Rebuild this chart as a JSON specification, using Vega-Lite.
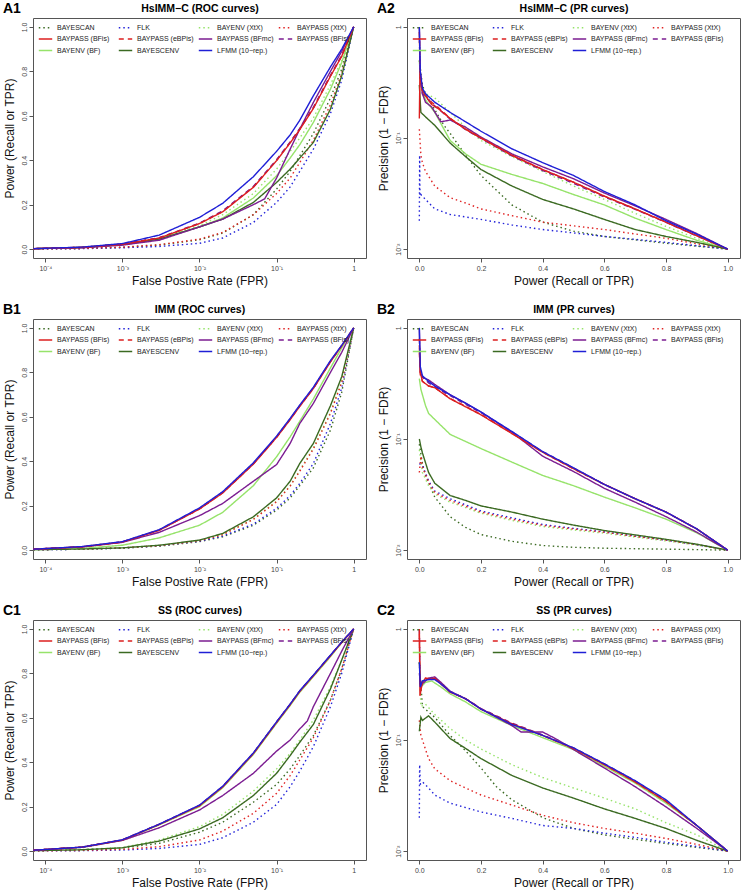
{
"$schema": "https://vega.github.io/schema/vega-lite/v6.json",
"padding": {"left": 2, "top": 1, "right": 2, "bottom": 2},
"background": "white",
"config": {
  "font": "Liberation Sans",
  "view": {"stroke": "#555", "strokeWidth": 1},
  "title": {"anchor": "start", "frame": "bounds", "offset": -13, "fontSize": 14, "fontWeight": "bold", "color": "#000"},
  "axis": {"grid": false, "domain": false, "tickSize": 4, "tickColor": "#555", "labelFontSize": 7, "labelColor": "#444", "labelPadding": 2, "titleFontSize": 12, "titleFontWeight": "normal", "titleColor": "#111", "titlePadding": 4, "labelFlush": false, "labelOverlap": false},
  "axisLeft": {"labelAngle": -90, "labelAlign": "center", "labelBaseline": "bottom"},
  "legend": {"gridAlign": "all", "columnPadding": 1, "rowPadding": 0.5, "symbolType": "stroke", "symbolSize": 180, "symbolStrokeWidth": 1.4, "labelFontSize": 7, "labelColor": "#222", "labelOffset": 4, "padding": 0}
},
"spacing": {"row": 15, "column": 9},
"columns": 2,
"resolve": {"scale": {"color": "independent", "strokeDash": "independent"}},
"datasets": {
"A1": [
{"m":"SCAN","x":0.00007,"y":0.001},{"m":"SCAN","x":0.0003,"y":0.003},{"m":"SCAN","x":0.001,"y":0.008},{"m":"SCAN","x":0.003,"y":0.018},{"m":"SCAN","x":0.01,"y":0.042},{"m":"SCAN","x":0.02,"y":0.072},{"m":"SCAN","x":0.05,"y":0.155},{"m":"SCAN","x":0.1,"y":0.27},{"m":"SCAN","x":0.15,"y":0.35},{"m":"SCAN","x":0.2,"y":0.42},{"m":"SCAN","x":0.3,"y":0.52},{"m":"SCAN","x":0.5,"y":0.68},{"m":"SCAN","x":0.7,"y":0.81},{"m":"SCAN","x":1,"y":1},
{"m":"FLK","x":0.00007,"y":0.001},{"m":"FLK","x":0.0003,"y":0.002},{"m":"FLK","x":0.001,"y":0.006},{"m":"FLK","x":0.003,"y":0.012},{"m":"FLK","x":0.01,"y":0.026},{"m":"FLK","x":0.02,"y":0.05},{"m":"FLK","x":0.05,"y":0.12},{"m":"FLK","x":0.1,"y":0.21},{"m":"FLK","x":0.15,"y":0.28},{"m":"FLK","x":0.2,"y":0.35},{"m":"FLK","x":0.3,"y":0.45},{"m":"FLK","x":0.5,"y":0.61},{"m":"FLK","x":0.7,"y":0.76},{"m":"FLK","x":1,"y":1},
{"m":"ENVX","x":0.00007,"y":0.002},{"m":"ENVX","x":0.0003,"y":0.008},{"m":"ENVX","x":0.001,"y":0.022},{"m":"ENVX","x":0.003,"y":0.048},{"m":"ENVX","x":0.01,"y":0.105},{"m":"ENVX","x":0.02,"y":0.155},{"m":"ENVX","x":0.05,"y":0.25},{"m":"ENVX","x":0.1,"y":0.36},{"m":"ENVX","x":0.15,"y":0.44},{"m":"ENVX","x":0.2,"y":0.5},{"m":"ENVX","x":0.3,"y":0.59},{"m":"ENVX","x":0.5,"y":0.74},{"m":"ENVX","x":0.7,"y":0.85},{"m":"ENVX","x":1,"y":1},
{"m":"BPX","x":0.00007,"y":0.001},{"m":"BPX","x":0.0003,"y":0.003},{"m":"BPX","x":0.001,"y":0.009},{"m":"BPX","x":0.003,"y":0.02},{"m":"BPX","x":0.01,"y":0.045},{"m":"BPX","x":0.02,"y":0.075},{"m":"BPX","x":0.05,"y":0.155},{"m":"BPX","x":0.1,"y":0.25},{"m":"BPX","x":0.15,"y":0.32},{"m":"BPX","x":0.2,"y":0.39},{"m":"BPX","x":0.3,"y":0.49},{"m":"BPX","x":0.5,"y":0.65},{"m":"BPX","x":0.7,"y":0.79},{"m":"BPX","x":1,"y":1},
{"m":"ENVBF","x":0.00007,"y":0.002},{"m":"ENVBF","x":0.0003,"y":0.008},{"m":"ENVBF","x":0.001,"y":0.021},{"m":"ENVBF","x":0.003,"y":0.045},{"m":"ENVBF","x":0.01,"y":0.1},{"m":"ENVBF","x":0.02,"y":0.14},{"m":"ENVBF","x":0.05,"y":0.23},{"m":"ENVBF","x":0.1,"y":0.33},{"m":"ENVBF","x":0.15,"y":0.41},{"m":"ENVBF","x":0.2,"y":0.47},{"m":"ENVBF","x":0.3,"y":0.57},{"m":"ENVBF","x":0.5,"y":0.72},{"m":"ENVBF","x":0.7,"y":0.84},{"m":"ENVBF","x":1,"y":1},
{"m":"SCENV","x":0.00007,"y":0.002},{"m":"SCENV","x":0.0003,"y":0.007},{"m":"SCENV","x":0.001,"y":0.02},{"m":"SCENV","x":0.003,"y":0.045},{"m":"SCENV","x":0.01,"y":0.1},{"m":"SCENV","x":0.02,"y":0.135},{"m":"SCENV","x":0.05,"y":0.21},{"m":"SCENV","x":0.1,"y":0.3},{"m":"SCENV","x":0.15,"y":0.36},{"m":"SCENV","x":0.2,"y":0.41},{"m":"SCENV","x":0.3,"y":0.48},{"m":"SCENV","x":0.5,"y":0.63},{"m":"SCENV","x":0.7,"y":0.78},{"m":"SCENV","x":1,"y":1},
{"m":"BFMC","x":0.00007,"y":0.002},{"m":"BFMC","x":0.0003,"y":0.006},{"m":"BFMC","x":0.001,"y":0.018},{"m":"BFMC","x":0.003,"y":0.04},{"m":"BFMC","x":0.01,"y":0.1},{"m":"BFMC","x":0.02,"y":0.135},{"m":"BFMC","x":0.05,"y":0.2},{"m":"BFMC","x":0.07,"y":0.226},{"m":"BFMC","x":0.1,"y":0.32},{"m":"BFMC","x":0.15,"y":0.45},{"m":"BFMC","x":0.2,"y":0.54},{"m":"BFMC","x":0.3,"y":0.66},{"m":"BFMC","x":0.5,"y":0.8},{"m":"BFMC","x":0.7,"y":0.89},{"m":"BFMC","x":1,"y":1},
{"m":"EBP","x":0.00007,"y":0.002},{"m":"EBP","x":0.0003,"y":0.008},{"m":"EBP","x":0.001,"y":0.022},{"m":"EBP","x":0.003,"y":0.05},{"m":"EBP","x":0.01,"y":0.115},{"m":"EBP","x":0.02,"y":0.17},{"m":"EBP","x":0.05,"y":0.28},{"m":"EBP","x":0.1,"y":0.4},{"m":"EBP","x":0.15,"y":0.48},{"m":"EBP","x":0.2,"y":0.54},{"m":"EBP","x":0.3,"y":0.635},{"m":"EBP","x":0.5,"y":0.78},{"m":"EBP","x":0.7,"y":0.87},{"m":"EBP","x":1,"y":1},
{"m":"BFIS2","x":0.00007,"y":0.002},{"m":"BFIS2","x":0.0003,"y":0.008},{"m":"BFIS2","x":0.001,"y":0.023},{"m":"BFIS2","x":0.003,"y":0.051},{"m":"BFIS2","x":0.01,"y":0.117},{"m":"BFIS2","x":0.02,"y":0.172},{"m":"BFIS2","x":0.05,"y":0.282},{"m":"BFIS2","x":0.1,"y":0.402},{"m":"BFIS2","x":0.15,"y":0.482},{"m":"BFIS2","x":0.2,"y":0.543},{"m":"BFIS2","x":0.3,"y":0.638},{"m":"BFIS2","x":0.5,"y":0.782},{"m":"BFIS2","x":0.7,"y":0.872},{"m":"BFIS2","x":1,"y":1},
{"m":"BFIS","x":0.00007,"y":0.002},{"m":"BFIS","x":0.0003,"y":0.008},{"m":"BFIS","x":0.001,"y":0.022},{"m":"BFIS","x":0.003,"y":0.05},{"m":"BFIS","x":0.01,"y":0.115},{"m":"BFIS","x":0.02,"y":0.168},{"m":"BFIS","x":0.05,"y":0.278},{"m":"BFIS","x":0.1,"y":0.398},{"m":"BFIS","x":0.15,"y":0.478},{"m":"BFIS","x":0.2,"y":0.538},{"m":"BFIS","x":0.3,"y":0.633},{"m":"BFIS","x":0.5,"y":0.778},{"m":"BFIS","x":0.7,"y":0.868},{"m":"BFIS","x":1,"y":1},
{"m":"LFMM","x":0.00007,"y":0.002},{"m":"LFMM","x":0.0003,"y":0.009},{"m":"LFMM","x":0.001,"y":0.025},{"m":"LFMM","x":0.003,"y":0.063},{"m":"LFMM","x":0.01,"y":0.143},{"m":"LFMM","x":0.02,"y":0.206},{"m":"LFMM","x":0.05,"y":0.326},{"m":"LFMM","x":0.1,"y":0.44},{"m":"LFMM","x":0.15,"y":0.514},{"m":"LFMM","x":0.2,"y":0.58},{"m":"LFMM","x":0.3,"y":0.69},{"m":"LFMM","x":0.5,"y":0.82},{"m":"LFMM","x":0.7,"y":0.9},{"m":"LFMM","x":1,"y":1}
],
"B1": [
{"m":"SCAN","x":0.00007,"y":0.001},{"m":"SCAN","x":0.0003,"y":0.004},{"m":"SCAN","x":0.001,"y":0.009},{"m":"SCAN","x":0.003,"y":0.018},{"m":"SCAN","x":0.01,"y":0.038},{"m":"SCAN","x":0.02,"y":0.06},{"m":"SCAN","x":0.05,"y":0.112},{"m":"SCAN","x":0.1,"y":0.18},{"m":"SCAN","x":0.15,"y":0.235},{"m":"SCAN","x":0.2,"y":0.29},{"m":"SCAN","x":0.3,"y":0.37},{"m":"SCAN","x":0.5,"y":0.54},{"m":"SCAN","x":0.7,"y":0.71},{"m":"SCAN","x":1,"y":1},
{"m":"FLK","x":0.00007,"y":0.001},{"m":"FLK","x":0.0003,"y":0.004},{"m":"FLK","x":0.001,"y":0.009},{"m":"FLK","x":0.003,"y":0.019},{"m":"FLK","x":0.01,"y":0.04},{"m":"FLK","x":0.02,"y":0.063},{"m":"FLK","x":0.05,"y":0.117},{"m":"FLK","x":0.1,"y":0.188},{"m":"FLK","x":0.15,"y":0.245},{"m":"FLK","x":0.2,"y":0.3},{"m":"FLK","x":0.3,"y":0.39},{"m":"FLK","x":0.5,"y":0.57},{"m":"FLK","x":0.7,"y":0.73},{"m":"FLK","x":1,"y":1},
{"m":"ENVX","x":0.00007,"y":0.002},{"m":"ENVX","x":0.0003,"y":0.005},{"m":"ENVX","x":0.001,"y":0.01},{"m":"ENVX","x":0.003,"y":0.021},{"m":"ENVX","x":0.01,"y":0.043},{"m":"ENVX","x":0.02,"y":0.07},{"m":"ENVX","x":0.05,"y":0.14},{"m":"ENVX","x":0.1,"y":0.22},{"m":"ENVX","x":0.15,"y":0.29},{"m":"ENVX","x":0.2,"y":0.36},{"m":"ENVX","x":0.3,"y":0.46},{"m":"ENVX","x":0.5,"y":0.62},{"m":"ENVX","x":0.7,"y":0.76},{"m":"ENVX","x":1,"y":1},
{"m":"BPX","x":0.00007,"y":0.002},{"m":"BPX","x":0.0003,"y":0.005},{"m":"BPX","x":0.001,"y":0.01},{"m":"BPX","x":0.003,"y":0.02},{"m":"BPX","x":0.01,"y":0.042},{"m":"BPX","x":0.02,"y":0.069},{"m":"BPX","x":0.05,"y":0.138},{"m":"BPX","x":0.1,"y":0.218},{"m":"BPX","x":0.15,"y":0.288},{"m":"BPX","x":0.2,"y":0.355},{"m":"BPX","x":0.3,"y":0.455},{"m":"BPX","x":0.5,"y":0.615},{"m":"BPX","x":0.7,"y":0.755},{"m":"BPX","x":1,"y":1},
{"m":"ENVBF","x":0.00007,"y":0.002},{"m":"ENVBF","x":0.0003,"y":0.008},{"m":"ENVBF","x":0.001,"y":0.022},{"m":"ENVBF","x":0.003,"y":0.055},{"m":"ENVBF","x":0.01,"y":0.112},{"m":"ENVBF","x":0.02,"y":0.17},{"m":"ENVBF","x":0.05,"y":0.29},{"m":"ENVBF","x":0.1,"y":0.42},{"m":"ENVBF","x":0.15,"y":0.51},{"m":"ENVBF","x":0.2,"y":0.58},{"m":"ENVBF","x":0.3,"y":0.68},{"m":"ENVBF","x":0.5,"y":0.82},{"m":"ENVBF","x":0.7,"y":0.91},{"m":"ENVBF","x":1,"y":1},
{"m":"SCENV","x":0.00007,"y":0.002},{"m":"SCENV","x":0.0003,"y":0.005},{"m":"SCENV","x":0.001,"y":0.01},{"m":"SCENV","x":0.003,"y":0.022},{"m":"SCENV","x":0.01,"y":0.045},{"m":"SCENV","x":0.02,"y":0.075},{"m":"SCENV","x":0.05,"y":0.15},{"m":"SCENV","x":0.1,"y":0.235},{"m":"SCENV","x":0.15,"y":0.31},{"m":"SCENV","x":0.2,"y":0.39},{"m":"SCENV","x":0.3,"y":0.48},{"m":"SCENV","x":0.5,"y":0.65},{"m":"SCENV","x":0.7,"y":0.78},{"m":"SCENV","x":1,"y":1},
{"m":"BFMC","x":0.00007,"y":0.004},{"m":"BFMC","x":0.0003,"y":0.014},{"m":"BFMC","x":0.001,"y":0.035},{"m":"BFMC","x":0.003,"y":0.08},{"m":"BFMC","x":0.01,"y":0.155},{"m":"BFMC","x":0.02,"y":0.21},{"m":"BFMC","x":0.05,"y":0.31},{"m":"BFMC","x":0.1,"y":0.385},{"m":"BFMC","x":0.15,"y":0.48},{"m":"BFMC","x":0.2,"y":0.57},{"m":"BFMC","x":0.3,"y":0.66},{"m":"BFMC","x":0.5,"y":0.8},{"m":"BFMC","x":0.7,"y":0.89},{"m":"BFMC","x":1,"y":1},
{"m":"EBP","x":0.00007,"y":0.004},{"m":"EBP","x":0.0003,"y":0.015},{"m":"EBP","x":0.001,"y":0.037},{"m":"EBP","x":0.003,"y":0.09},{"m":"EBP","x":0.01,"y":0.185},{"m":"EBP","x":0.02,"y":0.258},{"m":"EBP","x":0.05,"y":0.388},{"m":"EBP","x":0.1,"y":0.508},{"m":"EBP","x":0.15,"y":0.588},{"m":"EBP","x":0.2,"y":0.648},{"m":"EBP","x":0.3,"y":0.728},{"m":"EBP","x":0.5,"y":0.848},{"m":"EBP","x":0.7,"y":0.92},{"m":"EBP","x":1,"y":1},
{"m":"BFIS2","x":0.00007,"y":0.004},{"m":"BFIS2","x":0.0003,"y":0.015},{"m":"BFIS2","x":0.001,"y":0.037},{"m":"BFIS2","x":0.003,"y":0.09},{"m":"BFIS2","x":0.01,"y":0.187},{"m":"BFIS2","x":0.02,"y":0.26},{"m":"BFIS2","x":0.05,"y":0.39},{"m":"BFIS2","x":0.1,"y":0.51},{"m":"BFIS2","x":0.15,"y":0.59},{"m":"BFIS2","x":0.2,"y":0.65},{"m":"BFIS2","x":0.3,"y":0.73},{"m":"BFIS2","x":0.5,"y":0.85},{"m":"BFIS2","x":0.7,"y":0.92},{"m":"BFIS2","x":1,"y":1},
{"m":"BFIS","x":0.00007,"y":0.004},{"m":"BFIS","x":0.0003,"y":0.015},{"m":"BFIS","x":0.001,"y":0.036},{"m":"BFIS","x":0.003,"y":0.089},{"m":"BFIS","x":0.01,"y":0.185},{"m":"BFIS","x":0.02,"y":0.257},{"m":"BFIS","x":0.05,"y":0.387},{"m":"BFIS","x":0.1,"y":0.507},{"m":"BFIS","x":0.15,"y":0.587},{"m":"BFIS","x":0.2,"y":0.647},{"m":"BFIS","x":0.3,"y":0.727},{"m":"BFIS","x":0.5,"y":0.847},{"m":"BFIS","x":0.7,"y":0.919},{"m":"BFIS","x":1,"y":1},
{"m":"LFMM","x":0.00007,"y":0.004},{"m":"LFMM","x":0.0003,"y":0.016},{"m":"LFMM","x":0.001,"y":0.038},{"m":"LFMM","x":0.003,"y":0.092},{"m":"LFMM","x":0.01,"y":0.19},{"m":"LFMM","x":0.02,"y":0.263},{"m":"LFMM","x":0.05,"y":0.393},{"m":"LFMM","x":0.1,"y":0.513},{"m":"LFMM","x":0.15,"y":0.593},{"m":"LFMM","x":0.2,"y":0.653},{"m":"LFMM","x":0.3,"y":0.733},{"m":"LFMM","x":0.5,"y":0.853},{"m":"LFMM","x":0.7,"y":0.922},{"m":"LFMM","x":1,"y":1}
],
"C1": [
{"m":"SCAN","x":0.00007,"y":0.002},{"m":"SCAN","x":0.0003,"y":0.006},{"m":"SCAN","x":0.001,"y":0.014},{"m":"SCAN","x":0.003,"y":0.035},{"m":"SCAN","x":0.01,"y":0.085},{"m":"SCAN","x":0.02,"y":0.13},{"m":"SCAN","x":0.05,"y":0.22},{"m":"SCAN","x":0.1,"y":0.3},{"m":"SCAN","x":0.15,"y":0.37},{"m":"SCAN","x":0.2,"y":0.43},{"m":"SCAN","x":0.3,"y":0.52},{"m":"SCAN","x":0.5,"y":0.68},{"m":"SCAN","x":0.7,"y":0.82},{"m":"SCAN","x":1,"y":1},
{"m":"FLK","x":0.00007,"y":0.001},{"m":"FLK","x":0.0003,"y":0.002},{"m":"FLK","x":0.001,"y":0.005},{"m":"FLK","x":0.003,"y":0.012},{"m":"FLK","x":0.01,"y":0.03},{"m":"FLK","x":0.02,"y":0.06},{"m":"FLK","x":0.05,"y":0.13},{"m":"FLK","x":0.1,"y":0.21},{"m":"FLK","x":0.15,"y":0.29},{"m":"FLK","x":0.2,"y":0.36},{"m":"FLK","x":0.3,"y":0.47},{"m":"FLK","x":0.5,"y":0.65},{"m":"FLK","x":0.7,"y":0.8},{"m":"FLK","x":1,"y":1},
{"m":"ENVX","x":0.00007,"y":0.002},{"m":"ENVX","x":0.0003,"y":0.007},{"m":"ENVX","x":0.001,"y":0.016},{"m":"ENVX","x":0.003,"y":0.05},{"m":"ENVX","x":0.01,"y":0.11},{"m":"ENVX","x":0.02,"y":0.165},{"m":"ENVX","x":0.05,"y":0.27},{"m":"ENVX","x":0.1,"y":0.37},{"m":"ENVX","x":0.15,"y":0.44},{"m":"ENVX","x":0.2,"y":0.5},{"m":"ENVX","x":0.3,"y":0.59},{"m":"ENVX","x":0.5,"y":0.74},{"m":"ENVX","x":0.7,"y":0.86},{"m":"ENVX","x":1,"y":1},
{"m":"BPX","x":0.00007,"y":0.001},{"m":"BPX","x":0.0003,"y":0.003},{"m":"BPX","x":0.001,"y":0.008},{"m":"BPX","x":0.003,"y":0.02},{"m":"BPX","x":0.01,"y":0.05},{"m":"BPX","x":0.02,"y":0.09},{"m":"BPX","x":0.05,"y":0.17},{"m":"BPX","x":0.1,"y":0.26},{"m":"BPX","x":0.15,"y":0.34},{"m":"BPX","x":0.2,"y":0.41},{"m":"BPX","x":0.3,"y":0.51},{"m":"BPX","x":0.5,"y":0.68},{"m":"BPX","x":0.7,"y":0.82},{"m":"BPX","x":1,"y":1},
{"m":"ENVBF","x":0.00007,"y":0.004},{"m":"ENVBF","x":0.0003,"y":0.017},{"m":"ENVBF","x":0.001,"y":0.049},{"m":"ENVBF","x":0.003,"y":0.118},{"m":"ENVBF","x":0.01,"y":0.2},{"m":"ENVBF","x":0.02,"y":0.285},{"m":"ENVBF","x":0.05,"y":0.435},{"m":"ENVBF","x":0.1,"y":0.575},{"m":"ENVBF","x":0.15,"y":0.655},{"m":"ENVBF","x":0.2,"y":0.715},{"m":"ENVBF","x":0.3,"y":0.785},{"m":"ENVBF","x":0.5,"y":0.875},{"m":"ENVBF","x":0.7,"y":0.938},{"m":"ENVBF","x":1,"y":1},
{"m":"SCENV","x":0.00007,"y":0.002},{"m":"SCENV","x":0.0003,"y":0.006},{"m":"SCENV","x":0.001,"y":0.015},{"m":"SCENV","x":0.003,"y":0.045},{"m":"SCENV","x":0.01,"y":0.1},{"m":"SCENV","x":0.02,"y":0.15},{"m":"SCENV","x":0.05,"y":0.25},{"m":"SCENV","x":0.1,"y":0.35},{"m":"SCENV","x":0.15,"y":0.43},{"m":"SCENV","x":0.2,"y":0.49},{"m":"SCENV","x":0.3,"y":0.57},{"m":"SCENV","x":0.5,"y":0.73},{"m":"SCENV","x":0.7,"y":0.86},{"m":"SCENV","x":1,"y":1},
{"m":"BFMC","x":0.00007,"y":0.004},{"m":"BFMC","x":0.0003,"y":0.017},{"m":"BFMC","x":0.001,"y":0.048},{"m":"BFMC","x":0.003,"y":0.105},{"m":"BFMC","x":0.01,"y":0.185},{"m":"BFMC","x":0.02,"y":0.25},{"m":"BFMC","x":0.05,"y":0.35},{"m":"BFMC","x":0.1,"y":0.45},{"m":"BFMC","x":0.15,"y":0.5},{"m":"BFMC","x":0.2,"y":0.55},{"m":"BFMC","x":0.25,"y":0.585},{"m":"BFMC","x":0.3,"y":0.65},{"m":"BFMC","x":0.5,"y":0.8},{"m":"BFMC","x":0.7,"y":0.9},{"m":"BFMC","x":1,"y":1},
{"m":"EBP","x":0.00007,"y":0.004},{"m":"EBP","x":0.0003,"y":0.018},{"m":"EBP","x":0.001,"y":0.05},{"m":"EBP","x":0.003,"y":0.12},{"m":"EBP","x":0.01,"y":0.205},{"m":"EBP","x":0.02,"y":0.29},{"m":"EBP","x":0.05,"y":0.44},{"m":"EBP","x":0.1,"y":0.58},{"m":"EBP","x":0.15,"y":0.66},{"m":"EBP","x":0.2,"y":0.72},{"m":"EBP","x":0.3,"y":0.79},{"m":"EBP","x":0.5,"y":0.88},{"m":"EBP","x":0.7,"y":0.94},{"m":"EBP","x":1,"y":1},
{"m":"BFIS2","x":0.00007,"y":0.004},{"m":"BFIS2","x":0.0003,"y":0.018},{"m":"BFIS2","x":0.001,"y":0.051},{"m":"BFIS2","x":0.003,"y":0.121},{"m":"BFIS2","x":0.01,"y":0.206},{"m":"BFIS2","x":0.02,"y":0.291},{"m":"BFIS2","x":0.05,"y":0.441},{"m":"BFIS2","x":0.1,"y":0.581},{"m":"BFIS2","x":0.15,"y":0.661},{"m":"BFIS2","x":0.2,"y":0.721},{"m":"BFIS2","x":0.3,"y":0.791},{"m":"BFIS2","x":0.5,"y":0.881},{"m":"BFIS2","x":0.7,"y":0.94},{"m":"BFIS2","x":1,"y":1},
{"m":"BFIS","x":0.00007,"y":0.004},{"m":"BFIS","x":0.0003,"y":0.018},{"m":"BFIS","x":0.001,"y":0.05},{"m":"BFIS","x":0.003,"y":0.12},{"m":"BFIS","x":0.01,"y":0.204},{"m":"BFIS","x":0.02,"y":0.289},{"m":"BFIS","x":0.05,"y":0.439},{"m":"BFIS","x":0.1,"y":0.579},{"m":"BFIS","x":0.15,"y":0.659},{"m":"BFIS","x":0.2,"y":0.719},{"m":"BFIS","x":0.3,"y":0.789},{"m":"BFIS","x":0.5,"y":0.879},{"m":"BFIS","x":0.7,"y":0.939},{"m":"BFIS","x":1,"y":1},
{"m":"LFMM","x":0.00007,"y":0.004},{"m":"LFMM","x":0.0003,"y":0.018},{"m":"LFMM","x":0.001,"y":0.051},{"m":"LFMM","x":0.003,"y":0.121},{"m":"LFMM","x":0.01,"y":0.207},{"m":"LFMM","x":0.02,"y":0.292},{"m":"LFMM","x":0.05,"y":0.442},{"m":"LFMM","x":0.1,"y":0.582},{"m":"LFMM","x":0.15,"y":0.662},{"m":"LFMM","x":0.2,"y":0.722},{"m":"LFMM","x":0.3,"y":0.792},{"m":"LFMM","x":0.5,"y":0.882},{"m":"LFMM","x":0.7,"y":0.941},{"m":"LFMM","x":1,"y":1}
],
"A2": [
{"m":"SCAN","x":0,"y":0.5},{"m":"SCAN","x":0.01,"y":0.3},{"m":"SCAN","x":0.02,"y":0.25},{"m":"SCAN","x":0.05,"y":0.18},{"m":"SCAN","x":0.08,"y":0.13},{"m":"SCAN","x":0.1,"y":0.11},{"m":"SCAN","x":0.15,"y":0.07},{"m":"SCAN","x":0.2,"y":0.046},{"m":"SCAN","x":0.3,"y":0.025},{"m":"SCAN","x":0.4,"y":0.0175},{"m":"SCAN","x":0.5,"y":0.0145},{"m":"SCAN","x":0.6,"y":0.013},{"m":"SCAN","x":0.8,"y":0.0113},{"m":"SCAN","x":1,"y":0.01},
{"m":"FLK","x":0,"y":0.018},{"m":"FLK","x":0.001,"y":0.07},{"m":"FLK","x":0.002,"y":0.03},{"m":"FLK","x":0.005,"y":0.031},{"m":"FLK","x":0.02,"y":0.028},{"m":"FLK","x":0.05,"y":0.023},{"m":"FLK","x":0.1,"y":0.0205},{"m":"FLK","x":0.2,"y":0.0185},{"m":"FLK","x":0.3,"y":0.0165},{"m":"FLK","x":0.4,"y":0.015},{"m":"FLK","x":0.5,"y":0.014},{"m":"FLK","x":0.6,"y":0.013},{"m":"FLK","x":0.8,"y":0.0115},{"m":"FLK","x":1,"y":0.01},
{"m":"ENVX","x":0,"y":0.8},{"m":"ENVX","x":0.005,"y":0.3},{"m":"ENVX","x":0.02,"y":0.25},{"m":"ENVX","x":0.05,"y":0.23},{"m":"ENVX","x":0.1,"y":0.17},{"m":"ENVX","x":0.15,"y":0.125},{"m":"ENVX","x":0.2,"y":0.095},{"m":"ENVX","x":0.3,"y":0.068},{"m":"ENVX","x":0.4,"y":0.05},{"m":"ENVX","x":0.5,"y":0.037},{"m":"ENVX","x":0.6,"y":0.028},{"m":"ENVX","x":0.7,"y":0.021},{"m":"ENVX","x":0.8,"y":0.016},{"m":"ENVX","x":0.9,"y":0.0125},{"m":"ENVX","x":1,"y":0.01},
{"m":"BPX","x":0,"y":0.12},{"m":"BPX","x":0.005,"y":0.07},{"m":"BPX","x":0.01,"y":0.06},{"m":"BPX","x":0.02,"y":0.05},{"m":"BPX","x":0.05,"y":0.037},{"m":"BPX","x":0.1,"y":0.029},{"m":"BPX","x":0.15,"y":0.026},{"m":"BPX","x":0.2,"y":0.023},{"m":"BPX","x":0.3,"y":0.02},{"m":"BPX","x":0.4,"y":0.0175},{"m":"BPX","x":0.5,"y":0.0162},{"m":"BPX","x":0.6,"y":0.015},{"m":"BPX","x":0.8,"y":0.0125},{"m":"BPX","x":1,"y":0.01},
{"m":"ENVBF","x":0,"y":0.5},{"m":"ENVBF","x":0.005,"y":0.3},{"m":"ENVBF","x":0.02,"y":0.22},{"m":"ENVBF","x":0.05,"y":0.17},{"m":"ENVBF","x":0.1,"y":0.095},{"m":"ENVBF","x":0.15,"y":0.072},{"m":"ENVBF","x":0.2,"y":0.058},{"m":"ENVBF","x":0.3,"y":0.047},{"m":"ENVBF","x":0.4,"y":0.039},{"m":"ENVBF","x":0.5,"y":0.031},{"m":"ENVBF","x":0.6,"y":0.025},{"m":"ENVBF","x":0.7,"y":0.019},{"m":"ENVBF","x":0.8,"y":0.015},{"m":"ENVBF","x":0.9,"y":0.012},{"m":"ENVBF","x":1,"y":0.01},
{"m":"SCENV","x":0,"y":0.3},{"m":"SCENV","x":0.005,"y":0.17},{"m":"SCENV","x":0.02,"y":0.155},{"m":"SCENV","x":0.05,"y":0.13},{"m":"SCENV","x":0.1,"y":0.09},{"m":"SCENV","x":0.15,"y":0.068},{"m":"SCENV","x":0.2,"y":0.052},{"m":"SCENV","x":0.3,"y":0.037},{"m":"SCENV","x":0.4,"y":0.028},{"m":"SCENV","x":0.5,"y":0.023},{"m":"SCENV","x":0.6,"y":0.0185},{"m":"SCENV","x":0.7,"y":0.015},{"m":"SCENV","x":0.8,"y":0.013},{"m":"SCENV","x":0.9,"y":0.0115},{"m":"SCENV","x":1,"y":0.01},
{"m":"BFMC","x":0,"y":1},{"m":"BFMC","x":0.003,"y":0.4},{"m":"BFMC","x":0.01,"y":0.25},{"m":"BFMC","x":0.02,"y":0.21},{"m":"BFMC","x":0.04,"y":0.19},{"m":"BFMC","x":0.07,"y":0.14},{"m":"BFMC","x":0.1,"y":0.145},{"m":"BFMC","x":0.15,"y":0.125},{"m":"BFMC","x":0.2,"y":0.102},{"m":"BFMC","x":0.3,"y":0.072},{"m":"BFMC","x":0.4,"y":0.055},{"m":"BFMC","x":0.5,"y":0.043},{"m":"BFMC","x":0.6,"y":0.032},{"m":"BFMC","x":0.7,"y":0.0245},{"m":"BFMC","x":0.8,"y":0.0185},{"m":"BFMC","x":0.9,"y":0.0138},{"m":"BFMC","x":1,"y":0.01},
{"m":"EBP","x":0,"y":0.9},{"m":"EBP","x":0.003,"y":0.35},{"m":"EBP","x":0.01,"y":0.26},{"m":"EBP","x":0.02,"y":0.24},{"m":"EBP","x":0.04,"y":0.21},{"m":"EBP","x":0.06,"y":0.19},{"m":"EBP","x":0.1,"y":0.15},{"m":"EBP","x":0.15,"y":0.12},{"m":"EBP","x":0.2,"y":0.1},{"m":"EBP","x":0.3,"y":0.07},{"m":"EBP","x":0.4,"y":0.052},{"m":"EBP","x":0.5,"y":0.04},{"m":"EBP","x":0.6,"y":0.03},{"m":"EBP","x":0.7,"y":0.023},{"m":"EBP","x":0.8,"y":0.0175},{"m":"EBP","x":0.9,"y":0.0132},{"m":"EBP","x":1,"y":0.01},
{"m":"BFIS2","x":0,"y":0.8},{"m":"BFIS2","x":0.003,"y":0.33},{"m":"BFIS2","x":0.01,"y":0.25},{"m":"BFIS2","x":0.02,"y":0.235},{"m":"BFIS2","x":0.04,"y":0.205},{"m":"BFIS2","x":0.06,"y":0.185},{"m":"BFIS2","x":0.1,"y":0.148},{"m":"BFIS2","x":0.15,"y":0.119},{"m":"BFIS2","x":0.2,"y":0.099},{"m":"BFIS2","x":0.3,"y":0.069},{"m":"BFIS2","x":0.4,"y":0.051},{"m":"BFIS2","x":0.5,"y":0.039},{"m":"BFIS2","x":0.6,"y":0.0295},{"m":"BFIS2","x":0.7,"y":0.0228},{"m":"BFIS2","x":0.8,"y":0.0174},{"m":"BFIS2","x":0.9,"y":0.0131},{"m":"BFIS2","x":1,"y":0.01},
{"m":"BFIS","x":0,"y":0.15},{"m":"BFIS","x":0.002,"y":0.4},{"m":"BFIS","x":0.01,"y":0.27},{"m":"BFIS","x":0.02,"y":0.24},{"m":"BFIS","x":0.04,"y":0.2},{"m":"BFIS","x":0.06,"y":0.185},{"m":"BFIS","x":0.1,"y":0.15},{"m":"BFIS","x":0.15,"y":0.12},{"m":"BFIS","x":0.2,"y":0.1},{"m":"BFIS","x":0.3,"y":0.07},{"m":"BFIS","x":0.4,"y":0.052},{"m":"BFIS","x":0.5,"y":0.04},{"m":"BFIS","x":0.6,"y":0.03},{"m":"BFIS","x":0.7,"y":0.023},{"m":"BFIS","x":0.8,"y":0.0175},{"m":"BFIS","x":0.9,"y":0.0132},{"m":"BFIS","x":1,"y":0.01},
{"m":"LFMM","x":0,"y":1},{"m":"LFMM","x":0.003,"y":0.4},{"m":"LFMM","x":0.01,"y":0.28},{"m":"LFMM","x":0.02,"y":0.25},{"m":"LFMM","x":0.05,"y":0.21},{"m":"LFMM","x":0.1,"y":0.17},{"m":"LFMM","x":0.15,"y":0.14},{"m":"LFMM","x":0.2,"y":0.115},{"m":"LFMM","x":0.3,"y":0.08},{"m":"LFMM","x":0.4,"y":0.06},{"m":"LFMM","x":0.5,"y":0.046},{"m":"LFMM","x":0.6,"y":0.033},{"m":"LFMM","x":0.7,"y":0.025},{"m":"LFMM","x":0.8,"y":0.018},{"m":"LFMM","x":0.9,"y":0.0136},{"m":"LFMM","x":1,"y":0.01}
],
"B2": [
{"m":"SCAN","x":0,"y":0.09},{"m":"SCAN","x":0.01,"y":0.06},{"m":"SCAN","x":0.02,"y":0.047},{"m":"SCAN","x":0.05,"y":0.03},{"m":"SCAN","x":0.1,"y":0.02},{"m":"SCAN","x":0.15,"y":0.016},{"m":"SCAN","x":0.2,"y":0.0138},{"m":"SCAN","x":0.3,"y":0.012},{"m":"SCAN","x":0.4,"y":0.011},{"m":"SCAN","x":0.5,"y":0.0106},{"m":"SCAN","x":0.6,"y":0.0104},{"m":"SCAN","x":0.8,"y":0.0102},{"m":"SCAN","x":1,"y":0.01},
{"m":"FLK","x":0,"y":0.06},{"m":"FLK","x":0.01,"y":0.058},{"m":"FLK","x":0.03,"y":0.042},{"m":"FLK","x":0.05,"y":0.034},{"m":"FLK","x":0.1,"y":0.029},{"m":"FLK","x":0.2,"y":0.0225},{"m":"FLK","x":0.3,"y":0.0195},{"m":"FLK","x":0.4,"y":0.017},{"m":"FLK","x":0.5,"y":0.0157},{"m":"FLK","x":0.6,"y":0.0146},{"m":"FLK","x":0.7,"y":0.0134},{"m":"FLK","x":0.8,"y":0.0123},{"m":"FLK","x":0.9,"y":0.0112},{"m":"FLK","x":1,"y":0.01},
{"m":"ENVX","x":0,"y":0.08},{"m":"ENVX","x":0.01,"y":0.05},{"m":"ENVX","x":0.03,"y":0.038},{"m":"ENVX","x":0.05,"y":0.032},{"m":"ENVX","x":0.1,"y":0.027},{"m":"ENVX","x":0.2,"y":0.0215},{"m":"ENVX","x":0.3,"y":0.0185},{"m":"ENVX","x":0.4,"y":0.0163},{"m":"ENVX","x":0.5,"y":0.0152},{"m":"ENVX","x":0.6,"y":0.0142},{"m":"ENVX","x":0.7,"y":0.0131},{"m":"ENVX","x":0.8,"y":0.0121},{"m":"ENVX","x":0.9,"y":0.0111},{"m":"ENVX","x":1,"y":0.01},
{"m":"BPX","x":0,"y":0.05},{"m":"BPX","x":0.005,"y":0.07},{"m":"BPX","x":0.01,"y":0.056},{"m":"BPX","x":0.03,"y":0.041},{"m":"BPX","x":0.05,"y":0.033},{"m":"BPX","x":0.1,"y":0.028},{"m":"BPX","x":0.2,"y":0.022},{"m":"BPX","x":0.3,"y":0.019},{"m":"BPX","x":0.4,"y":0.0167},{"m":"BPX","x":0.5,"y":0.0155},{"m":"BPX","x":0.6,"y":0.0145},{"m":"BPX","x":0.7,"y":0.0133},{"m":"BPX","x":0.8,"y":0.0123},{"m":"BPX","x":0.9,"y":0.0112},{"m":"BPX","x":1,"y":0.01},
{"m":"ENVBF","x":0,"y":0.35},{"m":"ENVBF","x":0.005,"y":0.28},{"m":"ENVBF","x":0.02,"y":0.2},{"m":"ENVBF","x":0.03,"y":0.17},{"m":"ENVBF","x":0.05,"y":0.15},{"m":"ENVBF","x":0.1,"y":0.11},{"m":"ENVBF","x":0.15,"y":0.095},{"m":"ENVBF","x":0.2,"y":0.082},{"m":"ENVBF","x":0.3,"y":0.062},{"m":"ENVBF","x":0.4,"y":0.047},{"m":"ENVBF","x":0.5,"y":0.038},{"m":"ENVBF","x":0.6,"y":0.03},{"m":"ENVBF","x":0.7,"y":0.024},{"m":"ENVBF","x":0.8,"y":0.019},{"m":"ENVBF","x":0.9,"y":0.0143},{"m":"ENVBF","x":1,"y":0.01},
{"m":"SCENV","x":0,"y":0.1},{"m":"SCENV","x":0.005,"y":0.085},{"m":"SCENV","x":0.01,"y":0.075},{"m":"SCENV","x":0.03,"y":0.05},{"m":"SCENV","x":0.05,"y":0.04},{"m":"SCENV","x":0.1,"y":0.031},{"m":"SCENV","x":0.15,"y":0.028},{"m":"SCENV","x":0.2,"y":0.025},{"m":"SCENV","x":0.3,"y":0.022},{"m":"SCENV","x":0.4,"y":0.019},{"m":"SCENV","x":0.5,"y":0.0168},{"m":"SCENV","x":0.6,"y":0.015},{"m":"SCENV","x":0.7,"y":0.0137},{"m":"SCENV","x":0.8,"y":0.0125},{"m":"SCENV","x":0.9,"y":0.0113},{"m":"SCENV","x":1,"y":0.01},
{"m":"BFMC","x":0,"y":1},{"m":"BFMC","x":0.003,"y":0.4},{"m":"BFMC","x":0.01,"y":0.36},{"m":"BFMC","x":0.03,"y":0.34},{"m":"BFMC","x":0.05,"y":0.31},{"m":"BFMC","x":0.1,"y":0.25},{"m":"BFMC","x":0.15,"y":0.21},{"m":"BFMC","x":0.2,"y":0.175},{"m":"BFMC","x":0.3,"y":0.115},{"m":"BFMC","x":0.35,"y":0.09},{"m":"BFMC","x":0.4,"y":0.07},{"m":"BFMC","x":0.5,"y":0.051},{"m":"BFMC","x":0.6,"y":0.036},{"m":"BFMC","x":0.7,"y":0.027},{"m":"BFMC","x":0.8,"y":0.02},{"m":"BFMC","x":0.9,"y":0.0145},{"m":"BFMC","x":1,"y":0.01},
{"m":"EBP","x":0,"y":0.6},{"m":"EBP","x":0.003,"y":0.38},{"m":"EBP","x":0.01,"y":0.33},{"m":"EBP","x":0.03,"y":0.3},{"m":"EBP","x":0.05,"y":0.29},{"m":"EBP","x":0.1,"y":0.232},{"m":"EBP","x":0.15,"y":0.197},{"m":"EBP","x":0.2,"y":0.166},{"m":"EBP","x":0.3,"y":0.113},{"m":"EBP","x":0.4,"y":0.076},{"m":"EBP","x":0.5,"y":0.054},{"m":"EBP","x":0.6,"y":0.039},{"m":"EBP","x":0.7,"y":0.029},{"m":"EBP","x":0.8,"y":0.022},{"m":"EBP","x":0.9,"y":0.0155},{"m":"EBP","x":1,"y":0.01},
{"m":"BFIS2","x":0,"y":0.8},{"m":"BFIS2","x":0.003,"y":0.42},{"m":"BFIS2","x":0.01,"y":0.36},{"m":"BFIS2","x":0.03,"y":0.32},{"m":"BFIS2","x":0.05,"y":0.295},{"m":"BFIS2","x":0.1,"y":0.245},{"m":"BFIS2","x":0.15,"y":0.205},{"m":"BFIS2","x":0.2,"y":0.172},{"m":"BFIS2","x":0.3,"y":0.116},{"m":"BFIS2","x":0.4,"y":0.077},{"m":"BFIS2","x":0.5,"y":0.055},{"m":"BFIS2","x":0.6,"y":0.039},{"m":"BFIS2","x":0.7,"y":0.029},{"m":"BFIS2","x":0.8,"y":0.022},{"m":"BFIS2","x":0.9,"y":0.0155},{"m":"BFIS2","x":1,"y":0.01},
{"m":"BFIS","x":0,"y":0.7},{"m":"BFIS","x":0.003,"y":0.4},{"m":"BFIS","x":0.01,"y":0.33},{"m":"BFIS","x":0.03,"y":0.3},{"m":"BFIS","x":0.05,"y":0.29},{"m":"BFIS","x":0.1,"y":0.23},{"m":"BFIS","x":0.15,"y":0.195},{"m":"BFIS","x":0.2,"y":0.165},{"m":"BFIS","x":0.3,"y":0.112},{"m":"BFIS","x":0.4,"y":0.076},{"m":"BFIS","x":0.5,"y":0.054},{"m":"BFIS","x":0.6,"y":0.039},{"m":"BFIS","x":0.7,"y":0.029},{"m":"BFIS","x":0.8,"y":0.022},{"m":"BFIS","x":0.9,"y":0.0155},{"m":"BFIS","x":1,"y":0.01},
{"m":"LFMM","x":0,"y":1},{"m":"LFMM","x":0.003,"y":0.45},{"m":"LFMM","x":0.01,"y":0.37},{"m":"LFMM","x":0.03,"y":0.33},{"m":"LFMM","x":0.05,"y":0.3},{"m":"LFMM","x":0.1,"y":0.25},{"m":"LFMM","x":0.15,"y":0.21},{"m":"LFMM","x":0.2,"y":0.175},{"m":"LFMM","x":0.3,"y":0.117},{"m":"LFMM","x":0.4,"y":0.077},{"m":"LFMM","x":0.5,"y":0.055},{"m":"LFMM","x":0.6,"y":0.039},{"m":"LFMM","x":0.7,"y":0.029},{"m":"LFMM","x":0.8,"y":0.022},{"m":"LFMM","x":0.9,"y":0.0155},{"m":"LFMM","x":1,"y":0.01}
],
"C2": [
{"m":"SCAN","x":0,"y":0.5},{"m":"SCAN","x":0.01,"y":0.2},{"m":"SCAN","x":0.05,"y":0.16},{"m":"SCAN","x":0.1,"y":0.11},{"m":"SCAN","x":0.15,"y":0.08},{"m":"SCAN","x":0.2,"y":0.056},{"m":"SCAN","x":0.25,"y":0.038},{"m":"SCAN","x":0.3,"y":0.029},{"m":"SCAN","x":0.4,"y":0.02},{"m":"SCAN","x":0.5,"y":0.016},{"m":"SCAN","x":0.6,"y":0.014},{"m":"SCAN","x":0.7,"y":0.0128},{"m":"SCAN","x":0.8,"y":0.0117},{"m":"SCAN","x":0.9,"y":0.0108},{"m":"SCAN","x":1,"y":0.01},
{"m":"FLK","x":0,"y":0.02},{"m":"FLK","x":0.001,"y":0.06},{"m":"FLK","x":0.003,"y":0.04},{"m":"FLK","x":0.01,"y":0.042},{"m":"FLK","x":0.03,"y":0.037},{"m":"FLK","x":0.05,"y":0.032},{"m":"FLK","x":0.1,"y":0.027},{"m":"FLK","x":0.2,"y":0.0225},{"m":"FLK","x":0.3,"y":0.0197},{"m":"FLK","x":0.4,"y":0.017},{"m":"FLK","x":0.5,"y":0.016},{"m":"FLK","x":0.6,"y":0.0145},{"m":"FLK","x":0.7,"y":0.0133},{"m":"FLK","x":0.8,"y":0.012},{"m":"FLK","x":0.9,"y":0.011},{"m":"FLK","x":1,"y":0.01},
{"m":"ENVX","x":0,"y":0.5},{"m":"ENVX","x":0.005,"y":0.2},{"m":"ENVX","x":0.02,"y":0.21},{"m":"ENVX","x":0.05,"y":0.17},{"m":"ENVX","x":0.1,"y":0.127},{"m":"ENVX","x":0.15,"y":0.1},{"m":"ENVX","x":0.2,"y":0.083},{"m":"ENVX","x":0.3,"y":0.06},{"m":"ENVX","x":0.4,"y":0.046},{"m":"ENVX","x":0.5,"y":0.037},{"m":"ENVX","x":0.6,"y":0.03},{"m":"ENVX","x":0.7,"y":0.024},{"m":"ENVX","x":0.8,"y":0.018},{"m":"ENVX","x":0.9,"y":0.014},{"m":"ENVX","x":1,"y":0.01},
{"m":"BPX","x":0,"y":0.15},{"m":"BPX","x":0.005,"y":0.11},{"m":"BPX","x":0.01,"y":0.1},{"m":"BPX","x":0.03,"y":0.068},{"m":"BPX","x":0.05,"y":0.055},{"m":"BPX","x":0.1,"y":0.043},{"m":"BPX","x":0.15,"y":0.037},{"m":"BPX","x":0.2,"y":0.032},{"m":"BPX","x":0.3,"y":0.026},{"m":"BPX","x":0.4,"y":0.021},{"m":"BPX","x":0.5,"y":0.018},{"m":"BPX","x":0.6,"y":0.016},{"m":"BPX","x":0.7,"y":0.0145},{"m":"BPX","x":0.8,"y":0.013},{"m":"BPX","x":0.9,"y":0.0115},{"m":"BPX","x":1,"y":0.01},
{"m":"ENVBF","x":0,"y":0.5},{"m":"ENVBF","x":0.005,"y":0.3},{"m":"ENVBF","x":0.02,"y":0.33},{"m":"ENVBF","x":0.04,"y":0.34},{"m":"ENVBF","x":0.07,"y":0.3},{"m":"ENVBF","x":0.1,"y":0.26},{"m":"ENVBF","x":0.15,"y":0.22},{"m":"ENVBF","x":0.2,"y":0.18},{"m":"ENVBF","x":0.3,"y":0.135},{"m":"ENVBF","x":0.4,"y":0.105},{"m":"ENVBF","x":0.5,"y":0.082},{"m":"ENVBF","x":0.6,"y":0.058},{"m":"ENVBF","x":0.7,"y":0.041},{"m":"ENVBF","x":0.8,"y":0.027},{"m":"ENVBF","x":0.9,"y":0.017},{"m":"ENVBF","x":1,"y":0.01},
{"m":"SCENV","x":0,"y":0.12},{"m":"SCENV","x":0.005,"y":0.16},{"m":"SCENV","x":0.01,"y":0.15},{"m":"SCENV","x":0.03,"y":0.165},{"m":"SCENV","x":0.05,"y":0.145},{"m":"SCENV","x":0.1,"y":0.103},{"m":"SCENV","x":0.15,"y":0.084},{"m":"SCENV","x":0.2,"y":0.068},{"m":"SCENV","x":0.3,"y":0.048},{"m":"SCENV","x":0.4,"y":0.037},{"m":"SCENV","x":0.5,"y":0.03},{"m":"SCENV","x":0.6,"y":0.024},{"m":"SCENV","x":0.7,"y":0.0197},{"m":"SCENV","x":0.8,"y":0.016},{"m":"SCENV","x":0.9,"y":0.0125},{"m":"SCENV","x":1,"y":0.01},
{"m":"BFMC","x":0,"y":0.4},{"m":"BFMC","x":0.005,"y":0.3},{"m":"BFMC","x":0.01,"y":0.32},{"m":"BFMC","x":0.03,"y":0.36},{"m":"BFMC","x":0.05,"y":0.37},{"m":"BFMC","x":0.07,"y":0.33},{"m":"BFMC","x":0.1,"y":0.275},{"m":"BFMC","x":0.15,"y":0.235},{"m":"BFMC","x":0.2,"y":0.19},{"m":"BFMC","x":0.25,"y":0.16},{"m":"BFMC","x":0.3,"y":0.135},{"m":"BFMC","x":0.33,"y":0.118},{"m":"BFMC","x":0.4,"y":0.118},{"m":"BFMC","x":0.45,"y":0.1},{"m":"BFMC","x":0.5,"y":0.082},{"m":"BFMC","x":0.6,"y":0.056},{"m":"BFMC","x":0.7,"y":0.038},{"m":"BFMC","x":0.8,"y":0.025},{"m":"BFMC","x":0.9,"y":0.016},{"m":"BFMC","x":1,"y":0.01},
{"m":"EBP","x":0,"y":0.9},{"m":"EBP","x":0.003,"y":0.3},{"m":"EBP","x":0.01,"y":0.34},{"m":"EBP","x":0.02,"y":0.36},{"m":"EBP","x":0.05,"y":0.355},{"m":"EBP","x":0.07,"y":0.32},{"m":"EBP","x":0.1,"y":0.27},{"m":"EBP","x":0.15,"y":0.235},{"m":"EBP","x":0.2,"y":0.19},{"m":"EBP","x":0.3,"y":0.14},{"m":"EBP","x":0.4,"y":0.11},{"m":"EBP","x":0.5,"y":0.084},{"m":"EBP","x":0.6,"y":0.06},{"m":"EBP","x":0.7,"y":0.042},{"m":"EBP","x":0.8,"y":0.028},{"m":"EBP","x":0.9,"y":0.017},{"m":"EBP","x":1,"y":0.01},
{"m":"BFIS2","x":0,"y":1},{"m":"BFIS2","x":0.003,"y":0.32},{"m":"BFIS2","x":0.01,"y":0.33},{"m":"BFIS2","x":0.02,"y":0.35},{"m":"BFIS2","x":0.05,"y":0.36},{"m":"BFIS2","x":0.07,"y":0.325},{"m":"BFIS2","x":0.1,"y":0.272},{"m":"BFIS2","x":0.15,"y":0.236},{"m":"BFIS2","x":0.2,"y":0.192},{"m":"BFIS2","x":0.3,"y":0.142},{"m":"BFIS2","x":0.4,"y":0.111},{"m":"BFIS2","x":0.5,"y":0.085},{"m":"BFIS2","x":0.6,"y":0.061},{"m":"BFIS2","x":0.7,"y":0.043},{"m":"BFIS2","x":0.8,"y":0.028},{"m":"BFIS2","x":0.9,"y":0.017},{"m":"BFIS2","x":1,"y":0.01},
{"m":"BFIS","x":0,"y":1},{"m":"BFIS","x":0.002,"y":0.25},{"m":"BFIS","x":0.01,"y":0.33},{"m":"BFIS","x":0.02,"y":0.36},{"m":"BFIS","x":0.03,"y":0.35},{"m":"BFIS","x":0.05,"y":0.36},{"m":"BFIS","x":0.07,"y":0.32},{"m":"BFIS","x":0.1,"y":0.27},{"m":"BFIS","x":0.15,"y":0.235},{"m":"BFIS","x":0.2,"y":0.19},{"m":"BFIS","x":0.3,"y":0.14},{"m":"BFIS","x":0.4,"y":0.11},{"m":"BFIS","x":0.5,"y":0.084},{"m":"BFIS","x":0.6,"y":0.06},{"m":"BFIS","x":0.7,"y":0.042},{"m":"BFIS","x":0.8,"y":0.028},{"m":"BFIS","x":0.9,"y":0.017},{"m":"BFIS","x":1,"y":0.01},
{"m":"LFMM","x":0,"y":0.5},{"m":"LFMM","x":0.003,"y":0.3},{"m":"LFMM","x":0.01,"y":0.34},{"m":"LFMM","x":0.03,"y":0.35},{"m":"LFMM","x":0.05,"y":0.35},{"m":"LFMM","x":0.07,"y":0.32},{"m":"LFMM","x":0.1,"y":0.272},{"m":"LFMM","x":0.15,"y":0.235},{"m":"LFMM","x":0.2,"y":0.19},{"m":"LFMM","x":0.3,"y":0.138},{"m":"LFMM","x":0.4,"y":0.11},{"m":"LFMM","x":0.5,"y":0.085},{"m":"LFMM","x":0.6,"y":0.061},{"m":"LFMM","x":0.7,"y":0.043},{"m":"LFMM","x":0.8,"y":0.029},{"m":"LFMM","x":0.9,"y":0.017},{"m":"LFMM","x":1,"y":0.01}
]
},
"concat": [
{"width": 333, "height": 240, "data": {"name": "A1"}, "title": {"text": "A1"},
 "layer": [
  {"mark": {"type": "line", "strokeWidth": 1.4, "clip": true},
   "encoding": {
    "x": {"field": "x", "type": "quantitative", "scale": {"type": "log", "domain": [0.0000692, 1.4454], "nice": false}, "axis": {"values": [0.0001, 0.001, 0.01, 0.1, 1], "labelExpr": "datum.value > 0.5 ? '1' : datum.value > 0.05 ? '10⁻¹' : datum.value > 0.005 ? '10⁻²' : datum.value > 0.0005 ? '10⁻³' : '10⁻⁴'", "title": "False Postive Rate (FPR)"}},
    "y": {"field": "y", "type": "quantitative", "scale": {"domain": [-0.04, 1.04], "nice": false, "zero": false}, "axis": {"values": [0, 0.2, 0.4, 0.6, 0.8, 1], "format": ".1f", "title": "Power (Recall or TPR)"}},
    "color": {"field": "m", "type": "nominal", "scale": {"domain": ["SCAN","BFIS","ENVBF","FLK","EBP","SCENV","ENVX","BFMC","LFMM","BPX","BFIS2"], "range": ["#3b6a22","#dc1f1f","#96e36a","#2323d9","#dc1f1f","#3b6a22","#96e36a","#7b1c91","#1f1fd6","#e02424","#7b1c91"]}, "legend": {"title": null, "orient": "none", "legendX": 5, "legendY": 2, "columns": 4, "labelExpr": "datum.label=='SCAN'?'BAYESCAN':datum.label=='ENVX'?'BAYENV (XtX)':datum.label=='BPX'?'BAYPASS (XtX)':datum.label=='BFIS'||datum.label=='BFIS2'?'BAYPASS (BFis)':datum.label=='EBP'?'BAYPASS (eBPis)':datum.label=='BFMC'?'BAYPASS (BFmc)':datum.label=='ENVBF'?'BAYENV (BF)':datum.label=='SCENV'?'BAYESCENV':datum.label=='LFMM'?'LFMM (10−rep.)':datum.label"}},
    "strokeDash": {"field": "m", "type": "nominal", "scale": {"domain": ["SCAN","BFIS","ENVBF","FLK","EBP","SCENV","ENVX","BFMC","LFMM","BPX","BFIS2"], "range": [[1.5,3],[1,0],[1,0],[1.5,3],[5,4],[1,0],[1.5,3],[1,0],[1,0],[1.5,3],[5,4]]}, "legend": {"title": null, "orient": "none", "legendX": 5, "legendY": 2, "columns": 4, "labelExpr": "datum.label=='SCAN'?'BAYESCAN':datum.label=='ENVX'?'BAYENV (XtX)':datum.label=='BPX'?'BAYPASS (XtX)':datum.label=='BFIS'||datum.label=='BFIS2'?'BAYPASS (BFis)':datum.label=='EBP'?'BAYPASS (eBPis)':datum.label=='BFMC'?'BAYPASS (BFmc)':datum.label=='ENVBF'?'BAYENV (BF)':datum.label=='SCENV'?'BAYESCENV':datum.label=='LFMM'?'LFMM (10−rep.)':datum.label"}}
   }},
  {"mark": {"type": "rule", "opacity": 0}, "encoding": {"x": {"field": "x", "type": "quantitative", "axis": {"orient": "top", "title": "HsIMM−C (ROC curves)", "labels": false, "ticks": false, "titleFontSize": 10.5, "titleFontWeight": "bold", "titleColor": "#000", "titlePadding": 5}}}}
 ],
 "resolve": {"axis": {"x": "independent"}}
},
{"width": 333, "height": 240, "data": {"name": "A2"}, "title": {"text": "A2"},
 "layer": [
  {"mark": {"type": "line", "strokeWidth": 1.4, "clip": true},
   "encoding": {
    "x": {"field": "x", "type": "quantitative", "scale": {"domain": [-0.04, 1.04], "nice": false, "zero": false}, "axis": {"values": [0, 0.2, 0.4, 0.6, 0.8, 1], "format": ".1f", "title": "Power (Recall or TPR)"}},
    "y": {"field": "y", "type": "quantitative", "scale": {"type": "log", "domain": [0.008318, 1.2023], "nice": false}, "axis": {"values": [0.01, 0.1, 1], "labelExpr": "datum.value > 0.5 ? '1' : datum.value > 0.05 ? '10⁻¹' : '10⁻²'", "title": "Precision (1 − FDR)"}},
    "color": {"field": "m", "type": "nominal", "scale": {"domain": ["SCAN","BFIS","ENVBF","FLK","EBP","SCENV","ENVX","BFMC","LFMM","BPX","BFIS2"], "range": ["#3b6a22","#dc1f1f","#96e36a","#2323d9","#dc1f1f","#3b6a22","#96e36a","#7b1c91","#1f1fd6","#e02424","#7b1c91"]}, "legend": {"title": null, "orient": "none", "legendX": 5, "legendY": 2, "columns": 4, "labelExpr": "datum.label=='SCAN'?'BAYESCAN':datum.label=='ENVX'?'BAYENV (XtX)':datum.label=='BPX'?'BAYPASS (XtX)':datum.label=='BFIS'||datum.label=='BFIS2'?'BAYPASS (BFis)':datum.label=='EBP'?'BAYPASS (eBPis)':datum.label=='BFMC'?'BAYPASS (BFmc)':datum.label=='ENVBF'?'BAYENV (BF)':datum.label=='SCENV'?'BAYESCENV':datum.label=='LFMM'?'LFMM (10−rep.)':datum.label"}},
    "strokeDash": {"field": "m", "type": "nominal", "scale": {"domain": ["SCAN","BFIS","ENVBF","FLK","EBP","SCENV","ENVX","BFMC","LFMM","BPX","BFIS2"], "range": [[1.5,3],[1,0],[1,0],[1.5,3],[5,4],[1,0],[1.5,3],[1,0],[1,0],[1.5,3],[5,4]]}, "legend": {"title": null, "orient": "none", "legendX": 5, "legendY": 2, "columns": 4, "labelExpr": "datum.label=='SCAN'?'BAYESCAN':datum.label=='ENVX'?'BAYENV (XtX)':datum.label=='BPX'?'BAYPASS (XtX)':datum.label=='BFIS'||datum.label=='BFIS2'?'BAYPASS (BFis)':datum.label=='EBP'?'BAYPASS (eBPis)':datum.label=='BFMC'?'BAYPASS (BFmc)':datum.label=='ENVBF'?'BAYENV (BF)':datum.label=='SCENV'?'BAYESCENV':datum.label=='LFMM'?'LFMM (10−rep.)':datum.label"}}
   }},
  {"mark": {"type": "rule", "opacity": 0}, "encoding": {"x": {"field": "x", "type": "quantitative", "axis": {"orient": "top", "title": "HsIMM−C (PR curves)", "labels": false, "ticks": false, "titleFontSize": 10.5, "titleFontWeight": "bold", "titleColor": "#000", "titlePadding": 5}}}}
 ],
 "resolve": {"axis": {"x": "independent"}}
},
{"width": 333, "height": 240, "data": {"name": "B1"}, "title": {"text": "B1"},
 "layer": [
  {"mark": {"type": "line", "strokeWidth": 1.4, "clip": true},
   "encoding": {
    "x": {"field": "x", "type": "quantitative", "scale": {"type": "log", "domain": [0.0000692, 1.4454], "nice": false}, "axis": {"values": [0.0001, 0.001, 0.01, 0.1, 1], "labelExpr": "datum.value > 0.5 ? '1' : datum.value > 0.05 ? '10⁻¹' : datum.value > 0.005 ? '10⁻²' : datum.value > 0.0005 ? '10⁻³' : '10⁻⁴'", "title": "False Postive Rate (FPR)"}},
    "y": {"field": "y", "type": "quantitative", "scale": {"domain": [-0.04, 1.04], "nice": false, "zero": false}, "axis": {"values": [0, 0.2, 0.4, 0.6, 0.8, 1], "format": ".1f", "title": "Power (Recall or TPR)"}},
    "color": {"field": "m", "type": "nominal", "scale": {"domain": ["SCAN","BFIS","ENVBF","FLK","EBP","SCENV","ENVX","BFMC","LFMM","BPX","BFIS2"], "range": ["#3b6a22","#dc1f1f","#96e36a","#2323d9","#dc1f1f","#3b6a22","#96e36a","#7b1c91","#1f1fd6","#e02424","#7b1c91"]}, "legend": {"title": null, "orient": "none", "legendX": 5, "legendY": 2, "columns": 4, "labelExpr": "datum.label=='SCAN'?'BAYESCAN':datum.label=='ENVX'?'BAYENV (XtX)':datum.label=='BPX'?'BAYPASS (XtX)':datum.label=='BFIS'||datum.label=='BFIS2'?'BAYPASS (BFis)':datum.label=='EBP'?'BAYPASS (eBPis)':datum.label=='BFMC'?'BAYPASS (BFmc)':datum.label=='ENVBF'?'BAYENV (BF)':datum.label=='SCENV'?'BAYESCENV':datum.label=='LFMM'?'LFMM (10−rep.)':datum.label"}},
    "strokeDash": {"field": "m", "type": "nominal", "scale": {"domain": ["SCAN","BFIS","ENVBF","FLK","EBP","SCENV","ENVX","BFMC","LFMM","BPX","BFIS2"], "range": [[1.5,3],[1,0],[1,0],[1.5,3],[5,4],[1,0],[1.5,3],[1,0],[1,0],[1.5,3],[5,4]]}, "legend": {"title": null, "orient": "none", "legendX": 5, "legendY": 2, "columns": 4, "labelExpr": "datum.label=='SCAN'?'BAYESCAN':datum.label=='ENVX'?'BAYENV (XtX)':datum.label=='BPX'?'BAYPASS (XtX)':datum.label=='BFIS'||datum.label=='BFIS2'?'BAYPASS (BFis)':datum.label=='EBP'?'BAYPASS (eBPis)':datum.label=='BFMC'?'BAYPASS (BFmc)':datum.label=='ENVBF'?'BAYENV (BF)':datum.label=='SCENV'?'BAYESCENV':datum.label=='LFMM'?'LFMM (10−rep.)':datum.label"}}
   }},
  {"mark": {"type": "rule", "opacity": 0}, "encoding": {"x": {"field": "x", "type": "quantitative", "axis": {"orient": "top", "title": "IMM (ROC curves)", "labels": false, "ticks": false, "titleFontSize": 10.5, "titleFontWeight": "bold", "titleColor": "#000", "titlePadding": 5}}}}
 ],
 "resolve": {"axis": {"x": "independent"}}
},
{"width": 333, "height": 240, "data": {"name": "B2"}, "title": {"text": "B2"},
 "layer": [
  {"mark": {"type": "line", "strokeWidth": 1.4, "clip": true},
   "encoding": {
    "x": {"field": "x", "type": "quantitative", "scale": {"domain": [-0.04, 1.04], "nice": false, "zero": false}, "axis": {"values": [0, 0.2, 0.4, 0.6, 0.8, 1], "format": ".1f", "title": "Power (Recall or TPR)"}},
    "y": {"field": "y", "type": "quantitative", "scale": {"type": "log", "domain": [0.008318, 1.2023], "nice": false}, "axis": {"values": [0.01, 0.1, 1], "labelExpr": "datum.value > 0.5 ? '1' : datum.value > 0.05 ? '10⁻¹' : '10⁻²'", "title": "Precision (1 − FDR)"}},
    "color": {"field": "m", "type": "nominal", "scale": {"domain": ["SCAN","BFIS","ENVBF","FLK","EBP","SCENV","ENVX","BFMC","LFMM","BPX","BFIS2"], "range": ["#3b6a22","#dc1f1f","#96e36a","#2323d9","#dc1f1f","#3b6a22","#96e36a","#7b1c91","#1f1fd6","#e02424","#7b1c91"]}, "legend": {"title": null, "orient": "none", "legendX": 5, "legendY": 2, "columns": 4, "labelExpr": "datum.label=='SCAN'?'BAYESCAN':datum.label=='ENVX'?'BAYENV (XtX)':datum.label=='BPX'?'BAYPASS (XtX)':datum.label=='BFIS'||datum.label=='BFIS2'?'BAYPASS (BFis)':datum.label=='EBP'?'BAYPASS (eBPis)':datum.label=='BFMC'?'BAYPASS (BFmc)':datum.label=='ENVBF'?'BAYENV (BF)':datum.label=='SCENV'?'BAYESCENV':datum.label=='LFMM'?'LFMM (10−rep.)':datum.label"}},
    "strokeDash": {"field": "m", "type": "nominal", "scale": {"domain": ["SCAN","BFIS","ENVBF","FLK","EBP","SCENV","ENVX","BFMC","LFMM","BPX","BFIS2"], "range": [[1.5,3],[1,0],[1,0],[1.5,3],[5,4],[1,0],[1.5,3],[1,0],[1,0],[1.5,3],[5,4]]}, "legend": {"title": null, "orient": "none", "legendX": 5, "legendY": 2, "columns": 4, "labelExpr": "datum.label=='SCAN'?'BAYESCAN':datum.label=='ENVX'?'BAYENV (XtX)':datum.label=='BPX'?'BAYPASS (XtX)':datum.label=='BFIS'||datum.label=='BFIS2'?'BAYPASS (BFis)':datum.label=='EBP'?'BAYPASS (eBPis)':datum.label=='BFMC'?'BAYPASS (BFmc)':datum.label=='ENVBF'?'BAYENV (BF)':datum.label=='SCENV'?'BAYESCENV':datum.label=='LFMM'?'LFMM (10−rep.)':datum.label"}}
   }},
  {"mark": {"type": "rule", "opacity": 0}, "encoding": {"x": {"field": "x", "type": "quantitative", "axis": {"orient": "top", "title": "IMM (PR curves)", "labels": false, "ticks": false, "titleFontSize": 10.5, "titleFontWeight": "bold", "titleColor": "#000", "titlePadding": 5}}}}
 ],
 "resolve": {"axis": {"x": "independent"}}
},
{"width": 333, "height": 240, "data": {"name": "C1"}, "title": {"text": "C1"},
 "layer": [
  {"mark": {"type": "line", "strokeWidth": 1.4, "clip": true},
   "encoding": {
    "x": {"field": "x", "type": "quantitative", "scale": {"type": "log", "domain": [0.0000692, 1.4454], "nice": false}, "axis": {"values": [0.0001, 0.001, 0.01, 0.1, 1], "labelExpr": "datum.value > 0.5 ? '1' : datum.value > 0.05 ? '10⁻¹' : datum.value > 0.005 ? '10⁻²' : datum.value > 0.0005 ? '10⁻³' : '10⁻⁴'", "title": "False Postive Rate (FPR)"}},
    "y": {"field": "y", "type": "quantitative", "scale": {"domain": [-0.04, 1.04], "nice": false, "zero": false}, "axis": {"values": [0, 0.2, 0.4, 0.6, 0.8, 1], "format": ".1f", "title": "Power (Recall or TPR)"}},
    "color": {"field": "m", "type": "nominal", "scale": {"domain": ["SCAN","BFIS","ENVBF","FLK","EBP","SCENV","ENVX","BFMC","LFMM","BPX","BFIS2"], "range": ["#3b6a22","#dc1f1f","#96e36a","#2323d9","#dc1f1f","#3b6a22","#96e36a","#7b1c91","#1f1fd6","#e02424","#7b1c91"]}, "legend": {"title": null, "orient": "none", "legendX": 5, "legendY": 2, "columns": 4, "labelExpr": "datum.label=='SCAN'?'BAYESCAN':datum.label=='ENVX'?'BAYENV (XtX)':datum.label=='BPX'?'BAYPASS (XtX)':datum.label=='BFIS'||datum.label=='BFIS2'?'BAYPASS (BFis)':datum.label=='EBP'?'BAYPASS (eBPis)':datum.label=='BFMC'?'BAYPASS (BFmc)':datum.label=='ENVBF'?'BAYENV (BF)':datum.label=='SCENV'?'BAYESCENV':datum.label=='LFMM'?'LFMM (10−rep.)':datum.label"}},
    "strokeDash": {"field": "m", "type": "nominal", "scale": {"domain": ["SCAN","BFIS","ENVBF","FLK","EBP","SCENV","ENVX","BFMC","LFMM","BPX","BFIS2"], "range": [[1.5,3],[1,0],[1,0],[1.5,3],[5,4],[1,0],[1.5,3],[1,0],[1,0],[1.5,3],[5,4]]}, "legend": {"title": null, "orient": "none", "legendX": 5, "legendY": 2, "columns": 4, "labelExpr": "datum.label=='SCAN'?'BAYESCAN':datum.label=='ENVX'?'BAYENV (XtX)':datum.label=='BPX'?'BAYPASS (XtX)':datum.label=='BFIS'||datum.label=='BFIS2'?'BAYPASS (BFis)':datum.label=='EBP'?'BAYPASS (eBPis)':datum.label=='BFMC'?'BAYPASS (BFmc)':datum.label=='ENVBF'?'BAYENV (BF)':datum.label=='SCENV'?'BAYESCENV':datum.label=='LFMM'?'LFMM (10−rep.)':datum.label"}}
   }},
  {"mark": {"type": "rule", "opacity": 0}, "encoding": {"x": {"field": "x", "type": "quantitative", "axis": {"orient": "top", "title": "SS (ROC curves)", "labels": false, "ticks": false, "titleFontSize": 10.5, "titleFontWeight": "bold", "titleColor": "#000", "titlePadding": 5}}}}
 ],
 "resolve": {"axis": {"x": "independent"}}
},
{"width": 333, "height": 240, "data": {"name": "C2"}, "title": {"text": "C2"},
 "layer": [
  {"mark": {"type": "line", "strokeWidth": 1.4, "clip": true},
   "encoding": {
    "x": {"field": "x", "type": "quantitative", "scale": {"domain": [-0.04, 1.04], "nice": false, "zero": false}, "axis": {"values": [0, 0.2, 0.4, 0.6, 0.8, 1], "format": ".1f", "title": "Power (Recall or TPR)"}},
    "y": {"field": "y", "type": "quantitative", "scale": {"type": "log", "domain": [0.008318, 1.2023], "nice": false}, "axis": {"values": [0.01, 0.1, 1], "labelExpr": "datum.value > 0.5 ? '1' : datum.value > 0.05 ? '10⁻¹' : '10⁻²'", "title": "Precision (1 − FDR)"}},
    "color": {"field": "m", "type": "nominal", "scale": {"domain": ["SCAN","BFIS","ENVBF","FLK","EBP","SCENV","ENVX","BFMC","LFMM","BPX","BFIS2"], "range": ["#3b6a22","#dc1f1f","#96e36a","#2323d9","#dc1f1f","#3b6a22","#96e36a","#7b1c91","#1f1fd6","#e02424","#7b1c91"]}, "legend": {"title": null, "orient": "none", "legendX": 5, "legendY": 2, "columns": 4, "labelExpr": "datum.label=='SCAN'?'BAYESCAN':datum.label=='ENVX'?'BAYENV (XtX)':datum.label=='BPX'?'BAYPASS (XtX)':datum.label=='BFIS'||datum.label=='BFIS2'?'BAYPASS (BFis)':datum.label=='EBP'?'BAYPASS (eBPis)':datum.label=='BFMC'?'BAYPASS (BFmc)':datum.label=='ENVBF'?'BAYENV (BF)':datum.label=='SCENV'?'BAYESCENV':datum.label=='LFMM'?'LFMM (10−rep.)':datum.label"}},
    "strokeDash": {"field": "m", "type": "nominal", "scale": {"domain": ["SCAN","BFIS","ENVBF","FLK","EBP","SCENV","ENVX","BFMC","LFMM","BPX","BFIS2"], "range": [[1.5,3],[1,0],[1,0],[1.5,3],[5,4],[1,0],[1.5,3],[1,0],[1,0],[1.5,3],[5,4]]}, "legend": {"title": null, "orient": "none", "legendX": 5, "legendY": 2, "columns": 4, "labelExpr": "datum.label=='SCAN'?'BAYESCAN':datum.label=='ENVX'?'BAYENV (XtX)':datum.label=='BPX'?'BAYPASS (XtX)':datum.label=='BFIS'||datum.label=='BFIS2'?'BAYPASS (BFis)':datum.label=='EBP'?'BAYPASS (eBPis)':datum.label=='BFMC'?'BAYPASS (BFmc)':datum.label=='ENVBF'?'BAYENV (BF)':datum.label=='SCENV'?'BAYESCENV':datum.label=='LFMM'?'LFMM (10−rep.)':datum.label"}}
   }},
  {"mark": {"type": "rule", "opacity": 0}, "encoding": {"x": {"field": "x", "type": "quantitative", "axis": {"orient": "top", "title": "SS (PR curves)", "labels": false, "ticks": false, "titleFontSize": 10.5, "titleFontWeight": "bold", "titleColor": "#000", "titlePadding": 5}}}}
 ],
 "resolve": {"axis": {"x": "independent"}}
}
]
}
